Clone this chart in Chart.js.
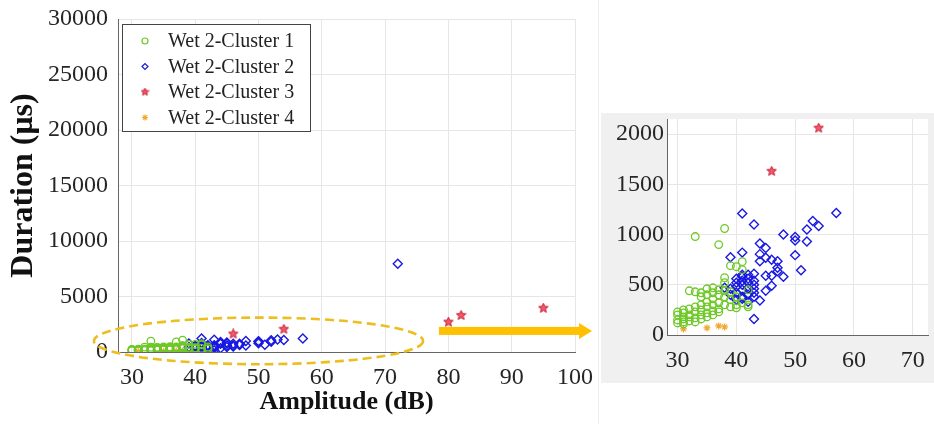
<!DOCTYPE html>
<html>
<head>
<meta charset="utf-8">
<script src="https://cdn.jsdelivr.net/npm/chart.js@4.4.1/dist/chart.umd.min.js"></script>
<style>
  body { margin: 0; background: #fff; }
  #main { position: absolute; left: 0; top: 0; width: 600px; height: 424px; }
  #zoom { position: absolute; left: 601px; top: 113px; width: 333px; height: 270px; background: #f0f0f0; }
  #sep { position: absolute; left: 598px; top: 0; width: 1px; height: 424px; background: #eeeeee; }
</style>
</head>
<body>
<div id="sep"></div>
<div id="main"><canvas id="mainChart"></canvas></div>
<div id="zoom"><canvas id="zoomChart"></canvas></div>
<script>
// Wet 2 clusters: [amplitude dB, duration us]
const cluster1 = [
  [30,150],[30,200],[30,230],[30,120],[31,130],[31,180],[31,220],[31,250],[31,160],[31,110],
  [32,140],[32,200],[32,260],[32,440],[32,180],[33,170],[33,230],[33,280],[33,430],[33,980],
  [33,130],[34,200],[34,250],[34,300],[34,380],[34,420],[34,160],[35,220],[35,280],[35,330],
  [35,400],[35,460],[35,180],[36,240],[36,300],[36,360],[36,420],[36,470],[36,200],[37,260],
  [37,320],[37,400],[37,450],[37,900],[37,230],[38,300],[38,380],[38,440],[38,570],[38,1060],
  [38,520],[39,280],[39,350],[39,430],[39,690],[40,300],[40,380],[40,680],[40,270],[41,320],
  [41,730],[41,650],[42,280],[42,300],[42,450]
];
const cluster2 = [
  [38,470],[39,460],[39,775],[39,400],[40,350],[40,420],[40,480],[40,520],[40,560],[41,380],
  [41,450],[41,500],[41,540],[41,580],[41,600],[41,820],[41,1210],[41,360],[42,400],[42,460],
  [42,520],[42,560],[42,330],[42,600],[43,380],[43,420],[43,500],[43,540],[43,610],[43,1100],
  [43,160],[43,460],[44,343],[44,735],[44,805],[44,910],[45,440],[45,590],[45,770],[45,865],
  [46,490],[46,590],[46,750],[47,635],[47,670],[47,735],[48,580],[48,1000],[50,795],[50,940],
  [50,975],[51,645],[52,930],[52,1050],[53,1135],[54,1085],[57,1215],[72,7950]
];
const cluster3 = [[46,1630],[54,2060],[80,2700],[82,3300],[95,3950]];
const cluster4 = [[31,60],[35,70],[37,90],[38,80]];

const seriesNames = ['Wet 2-Cluster 1', 'Wet 2-Cluster 2', 'Wet 2-Cluster 3', 'Wet 2-Cluster 4'];
const mainXTicks = [30, 40, 50, 60, 70, 80, 90, 100];
const mainYTicks = [0, 5000, 10000, 15000, 20000, 25000, 30000];
const zoomXTicks = [30, 40, 50, 60, 70];
const zoomYTicks = [0, 500, 1000, 1500, 2000];

Chart.defaults.font.family = "'Liberation Serif', 'Times New Roman', serif";
Chart.defaults.color = '#262626';

function makeStar(size, fill, stroke) {
  const c = document.createElement('canvas');
  c.width = size; c.height = size;
  const g = c.getContext('2d');
  const cx = size / 2, cy = size / 2, R = size / 2 - 0.5, r = R * 0.45;
  g.beginPath();
  for (let i = 0; i < 10; i++) {
    const rad = i % 2 ? r : R;
    const a = -Math.PI / 2 + i * Math.PI / 5;
    g.lineTo(cx + rad * Math.cos(a), cy + rad * Math.sin(a));
  }
  g.closePath();
  g.fillStyle = fill; g.fill();
  g.strokeStyle = stroke; g.lineWidth = 1; g.stroke();
  return c;
}
const starImg = makeStar(11, 'rgba(240,70,90,0.9)', 'rgb(200,30,50)');
const starSmall = makeStar(9, 'rgba(240,70,90,0.9)', 'rgb(200,30,50)');

function toPts(arr) { return arr.map(p => ({ x: p[0], y: p[1] })); }

function makeDatasets() {
  return [
    { label: seriesNames[0], data: toPts(cluster1), pointStyle: 'circle', pointRadius: 3.8,
      borderColor: 'rgb(110,200,40)', backgroundColor: 'rgba(0,0,0,0)', borderWidth: 1.3 },
    { label: seriesNames[1], data: toPts(cluster2), pointStyle: 'rectRot', pointRadius: 4.5,
      borderColor: 'rgb(25,25,225)', backgroundColor: 'rgba(0,0,0,0)', borderWidth: 1.4 },
    { label: seriesNames[2], data: toPts(cluster3), pointStyle: starImg, pointRadius: 5,
      borderColor: 'rgb(220,40,60)', backgroundColor: 'rgb(220,40,60)', borderWidth: 1 },
    { label: seriesNames[3], data: toPts(cluster4), pointStyle: 'star', pointRadius: 3.5,
      borderColor: 'rgb(240,170,50)', backgroundColor: 'rgba(0,0,0,0)', borderWidth: 1.2 }
  ];
}

// dashed ellipse and arrow, placed in data units
const marks = {
  id: 'marks',
  afterDatasetsDraw(chart) {
    const { ctx, scales: { x, y } } = chart;
    ctx.save();
    const cx = x.getPixelForValue(50), cy = y.getPixelForValue(1000);
    const rx = x.getPixelForValue(76) - cx, ry = cy - y.getPixelForValue(3100);
    ctx.beginPath();
    ctx.ellipse(cx, cy, rx, ry, 0, 0, Math.PI * 2);
    ctx.setLineDash([9, 5]);
    ctx.lineWidth = 2.6;
    ctx.strokeStyle = 'rgb(236,190,30)';
    ctx.stroke();
    ctx.setLineDash([]);

    const x1 = x.getPixelForValue(78.5), x2 = x.getPixelForValue(102.7), ay = y.getPixelForValue(1900);
    ctx.fillStyle = '#ffc000';
    ctx.fillRect(x1, ay - 4, x2 - x1 - 12, 8);
    ctx.beginPath();
    ctx.moveTo(x2, ay);
    ctx.lineTo(x2 - 13, ay - 8);
    ctx.lineTo(x2 - 13, ay + 8);
    ctx.closePath();
    ctx.fill();
    ctx.restore();
  }
};

const insideLegend = {
  id: 'insideLegend',
  afterDraw(chart) {
    const ctx = chart.ctx, a = chart.chartArea;
    const x0 = a.left + 4, y0 = a.top + 5, w = 188, h = 107, row = 25.5;
    ctx.save();
    ctx.fillStyle = '#fff';
    ctx.fillRect(x0, y0, w, h);
    ctx.strokeStyle = '#444';
    ctx.lineWidth = 1;
    ctx.strokeRect(x0 + 0.5, y0 + 0.5, w, h);
    chart.data.datasets.forEach((ds, i) => {
      const cy = y0 + 17 + i * row;
      ctx.strokeStyle = ds.borderColor;
      ctx.fillStyle = ds.backgroundColor;
      ctx.lineWidth = 1.2;
      const style = ds.pointStyle === starImg ? starSmall : ds.pointStyle;
      Chart.helpers.drawPoint(ctx, { pointStyle: style, radius: 3, borderWidth: 1.2, rotation: 0 }, x0 + 23, cy);
      ctx.fillStyle = '#222';
      ctx.font = "20px 'Liberation Serif'";
      ctx.textBaseline = 'middle';
      ctx.textAlign = 'left';
      ctx.fillText(ds.label, x0 + 46, cy + 1);
    });
    ctx.restore();
  }
};

function tickFilter(list) {
  return function (scale) { scale.ticks = list.map(v => ({ value: v })); };
}
function fixSize(prop, size) {
  return function (s) {
    s[prop] = size;
    s.paddingTop = 0; s.paddingBottom = 0; s.paddingLeft = 0; s.paddingRight = 0;
  };
}
const plain = v => String(v);

new Chart(document.getElementById('mainChart'), {
  type: 'scatter',
  data: { datasets: makeDatasets() },
  options: {
    responsive: true,
    maintainAspectRatio: false,
    animation: false,
    layout: { padding: { left: 0, right: 25, top: 19, bottom: 0 } },
    plugins: { legend: { display: false }, tooltip: { enabled: false } },
    scales: {
      x: {
        type: 'linear', min: 27.8, max: 100,
        afterBuildTicks: tickFilter(mainXTicks),
        afterFit: fixSize('height', 72),
        grid: { color: '#e6e6e6', drawTicks: false },
        border: { color: '#666' },
        ticks: { font: { size: 24 }, padding: 11, callback: plain },
        title: { display: true, text: 'Amplitude (dB)', font: { size: 26, weight: 'bold' },
                 color: '#111', padding: { top: 0, bottom: 6 } }
      },
      y: {
        type: 'linear', min: 0, max: 30000,
        afterBuildTicks: tickFilter(mainYTicks),
        afterFit: fixSize('width', 118),
        grid: { color: '#e6e6e6', drawTicks: false },
        border: { color: '#666' },
        ticks: { font: { size: 24 }, padding: 10, callback: plain },
        title: { display: true, text: 'Duration (μs)', font: { size: 32, weight: 'bold' },
                 color: '#111', padding: { top: 5, bottom: 0 } }
      }
    }
  },
  plugins: [marks, insideLegend]
});

const whiteArea = {
  id: 'whiteArea',
  beforeDraw(chart) {
    const { ctx, chartArea: a } = chart;
    ctx.save();
    ctx.fillStyle = '#fff';
    ctx.fillRect(a.left, a.top, a.right - a.left, a.bottom - a.top);
    ctx.restore();
  }
};

new Chart(document.getElementById('zoomChart'), {
  type: 'scatter',
  data: { datasets: makeDatasets() },
  options: {
    responsive: true,
    maintainAspectRatio: false,
    animation: false,
    layout: { padding: { left: 0, right: 0, top: 2, bottom: 0 } },
    plugins: { legend: { display: false }, tooltip: { enabled: false } },
    scales: {
      x: {
        type: 'linear', min: 28.2, max: 72.6,
        afterBuildTicks: tickFilter(zoomXTicks),
        afterFit: fixSize('height', 48),
        grid: { color: '#e6e6e6', drawTicks: false },
        border: { color: '#666' },
        ticks: { font: { size: 24 }, padding: 11, callback: plain }
      },
      y: {
        type: 'linear', min: 0, max: 2150,
        afterBuildTicks: tickFilter(zoomYTicks),
        afterFit: fixSize('width', 66),
        grid: { color: '#e6e6e6', drawTicks: false },
        border: { color: '#666' },
        ticks: { font: { size: 24 }, padding: 3, callback: plain }
      }
    }
  },
  plugins: [whiteArea]
});
</script>
</body>
</html>
